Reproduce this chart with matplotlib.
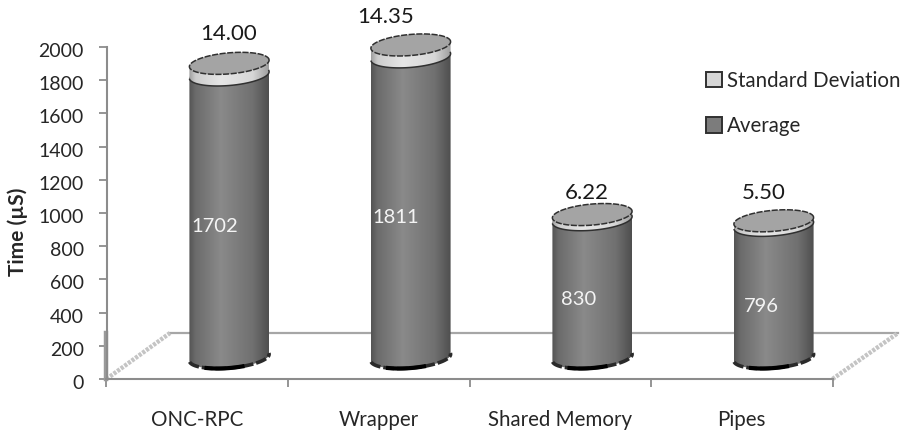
import numpy as np
import matplotlib
matplotlib.use('Agg')
import matplotlib.pyplot as plt
from matplotlib.patches import Patch, Polygon
from matplotlib.transforms import ScaledTranslation

plt.rcParams['font.family'] = ['Lato', 'DejaVu Sans']

categories = ['ONC-RPC', 'Wrapper', 'Shared Memory', 'Pipes']
average = [1702, 1811, 830, 796]
std_dev = [14.00, 14.35, 6.22, 5.50]
y_ticks = list(range(0, 2001, 200))

# the deviation is too small to see, so the band is stretched
SD_SCALE = 5

# axes box in pixels
W, H = 910, 433
LEFT, RIGHT, BOTTOM, TOP = 106.5, 832.5, 379, 47
PX_X = (RIGHT - LEFT) / 4
PX_Y = (BOTTOM - TOP) / 2000

# sizes of the fake 3d, in pixels
RX, RY, TILT = 40, 10.5, np.radians(5)
CYL_DX, CYL_DY = 32, 21.5
FLOOR_LDX, FLOOR_RDX, FLOOR_DY = 63.5, 65.5, 46


def ring(cx, cy, t):
    # point on a tilted ellipse, cx in category units and cy in microseconds
    ex = RX * np.cos(t)
    ey = RY * np.sin(t)
    px = ex * np.cos(TILT) - ey * np.sin(TILT)
    py = ex * np.sin(TILT) + ey * np.cos(TILT)
    return cx + px / PX_X, cy + py / PX_Y


def ellipse(cx, cy):
    x, y = ring(cx, cy, np.linspace(0, 2 * np.pi, 120))
    return np.column_stack([x, y])


def front_arc(cx, cy):
    t = np.linspace(np.pi + TILT, 2 * np.pi + TILT, 60)
    return ring(cx, cy, t)


def tube(ax, cx, y0, y1, levels):
    # body with a horizontal shade, clipped to the cylinder outline
    t_low = np.linspace(np.pi, 2 * np.pi, 60)
    t_up = np.linspace(0, np.pi, 60)
    xl, yl = ring(cx, y0, t_low)
    xu, yu = ring(cx, y1, t_up)
    pts = np.column_stack([np.r_[xl, xu], np.r_[yl, yu]])
    outline = Polygon(pts, closed=True, fc='none', ec='none',
                      transform=ax.transData, clip_on=False)
    ax.add_patch(outline)
    shade = np.interp(np.linspace(0, 1, 160), [0, 0.08, 0.4, 0.8, 1], levels)
    im = ax.imshow(shade[None, :], extent=[pts[:, 0].min(), pts[:, 0].max(), y0 - 200, y1 + 200],
                   aspect='auto', cmap='gray', vmin=0, vmax=1, zorder=3)
    im.set_clip_box(fig.bbox)
    im.set_clip_path(outline)


fig = plt.figure(figsize=(W / 100, H / 100), dpi=100)
ax = fig.add_axes([LEFT / W, 1 - BOTTOM / H, (RIGHT - LEFT) / W, (BOTTOM - TOP) / H])
ax.patch.set_visible(False)

# floor outline behind the cylinders
fdy = FLOOR_DY / PX_Y
hatch = (0, (0.7, 0.3))
ax.plot([-0.5 + FLOOR_LDX / PX_X, 3.5 + FLOOR_RDX / PX_X], [fdy, fdy],
        color='#a6a6a6', lw=1.6, clip_on=False, zorder=1)
ax.plot([-0.5, -0.5 + FLOOR_LDX / PX_X], [0, fdy], color='#c4c4c4', lw=3.2,
        ls=hatch, clip_on=False, zorder=1)
ax.plot([3.5, 3.5 + FLOOR_RDX / PX_X], [0, fdy], color='#c4c4c4', lw=3.2,
        ls=hatch, clip_on=False, zorder=1)
# side wall edge sits on top of the axis line
ax.plot([-0.5, -0.5], [0, fdy], color='#9a9a9a', lw=3.2, clip_on=False, zorder=2)

body_levels = [0.33, 0.42, 0.54, 0.44, 0.31]
band_levels = [0.62, 0.80, 0.90, 0.84, 0.62]
top_offsets = [(-1, 29), (-25, 28), (-6, 22), (-10, 28)]
mid_offsets = [(-15, -10), (-15, -10), (-14, -11), (-12, -15)]

for i, (avg, sd) in enumerate(zip(average, std_dev)):
    cx = i + CYL_DX / PX_X
    base = CYL_DY / PX_Y
    y_avg = base + avg
    y_top = y_avg + sd * SD_SCALE

    tube(ax, cx, base, y_avg, body_levels)
    tube(ax, cx, y_avg, y_top, band_levels)

    # dark rim along the foot of the cylinder
    xb, yb = front_arc(cx, base)
    ax.plot(xb, yb, color='#2a2a2a', lw=2.6, ls=(0, (3, 0.8)), clip_on=False, zorder=4)
    xb, yb = ring(cx, base, np.linspace(1.3 * np.pi, 1.6 * np.pi, 30))
    ax.plot(xb, yb, color='black', lw=3, clip_on=False, zorder=4)

    xa, ya = front_arc(cx, y_avg)
    ax.plot(xa, ya, color='#303030', lw=1.1, clip_on=False, zorder=5)

    lid = Polygon(ellipse(cx, y_top), closed=True, fc='#a4a4a4', ec='#303030', lw=1.1,
                  ls=(0, (4, 1)), clip_on=False, zorder=6)
    ax.add_patch(lid)

    ax.annotate(f'{sd:.2f}', (cx, y_top), xytext=top_offsets[i], textcoords='offset pixels',
                ha='center', va='center', fontsize=16, color='#1a1a1a',
                annotation_clip=False, zorder=7)
    ax.annotate(str(avg), (cx, base + avg / 2), xytext=mid_offsets[i], textcoords='offset pixels',
                ha='center', va='center', fontsize=14.5, color='#f4f4f4', zorder=7)

ax.set_xlim(-0.5, 3.5)
ax.set_ylim(0, 2000)

for name in ['top', 'right']:
    ax.spines[name].set_visible(False)
for name in ['left', 'bottom']:
    ax.spines[name].set_color('#8c8c8c')
    ax.spines[name].set_linewidth(1.5)

ax.set_yticks(y_ticks)
ax.tick_params(axis='y', length=5.8, width=1.3, color='#8c8c8c', pad=10.5, labelsize=14,
               labelcolor='#262626')
# numbers sit a little under their ticks
nudge = ScaledTranslation(0, -3 / 100, fig.dpi_scale_trans)
for lab in ax.get_yticklabels():
    lab.set_transform(lab.get_transform() + nudge)

ax.set_xticks(np.arange(-0.5, 4))
ax.set_xticklabels([])
ax.tick_params(axis='x', which='major', length=6, width=1.3, color='#8c8c8c')
ax.set_xticks(np.arange(4), minor=True)
ax.set_xticklabels(categories, minor=True, fontsize=14.8, color='#262626')
ax.tick_params(axis='x', which='minor', length=0, pad=22)
ax.set_ylabel('Time (µS)', fontsize=15, fontweight='bold', labelpad=0, color='#262626')
ax.yaxis.set_label_coords((28 - LEFT) / (RIGHT - LEFT), (BOTTOM - 231.5) / (BOTTOM - TOP))

handles = [Patch(fc='#d6d6d6', ec='#303030', lw=1.4), Patch(fc='#7c7c7c', ec='#303030', lw=1.4)]
fig.legend(handles, ['Standard Deviation', 'Average'], loc='upper left',
           bbox_to_anchor=(706 / W, 1 - 71 / H), frameon=False, fontsize=14.8, labelcolor='#262626',
           handlelength=0.76, handleheight=0.76, handletextpad=0.25,
           labelspacing=1.22, borderpad=0, borderaxespad=0)

fig.savefig('out.png', dpi=100, facecolor='white')
